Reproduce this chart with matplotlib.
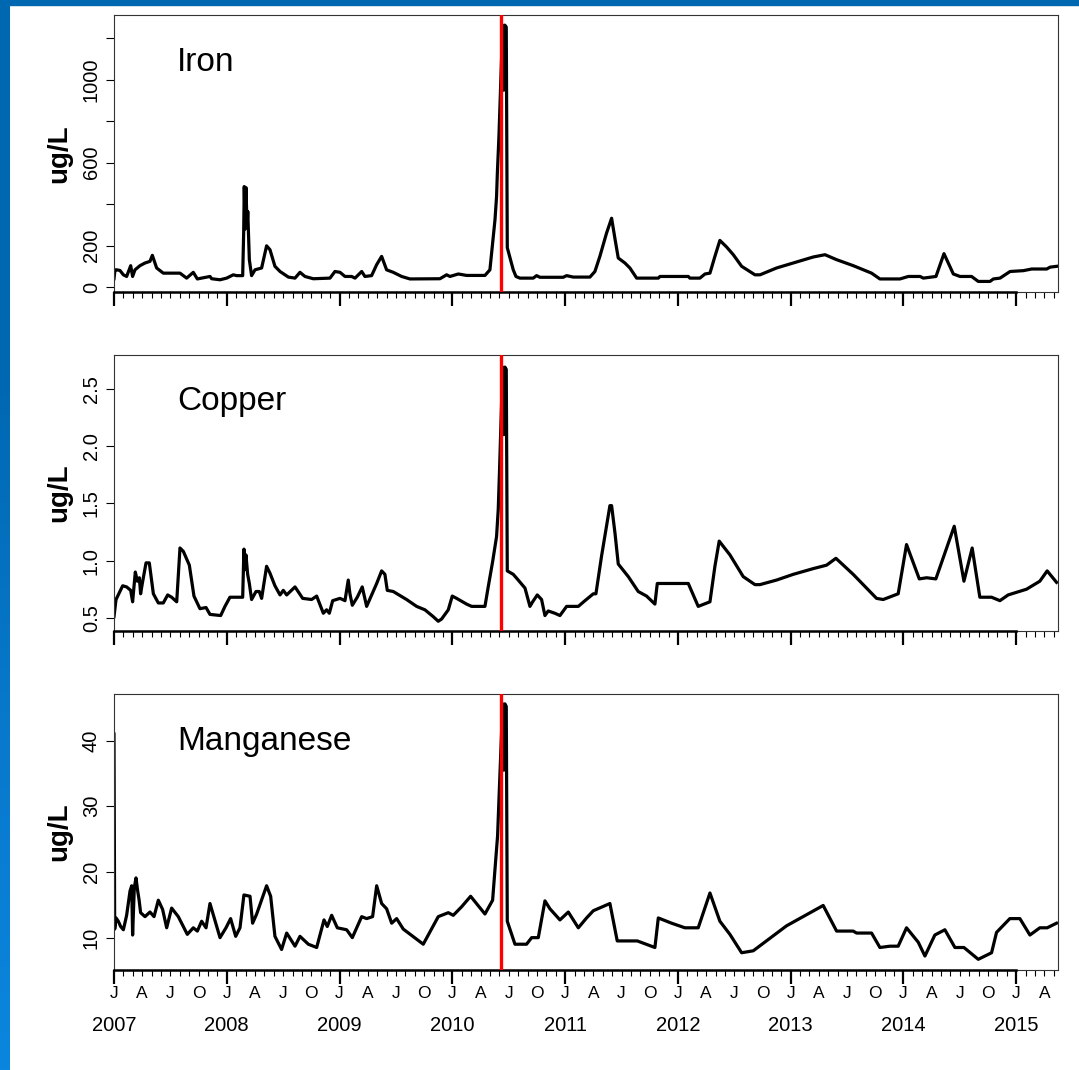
import matplotlib
matplotlib.use("Agg")
import matplotlib.pyplot as plt
import numpy as np
from matplotlib.colors import LinearSegmentedColormap
from matplotlib.patches import Rectangle

plt.rcParams['font.family'] = ['Liberation Sans', 'DejaVu Sans']

# sample dates as decimal years, values in ug/L
iron_t = [2007.000, 2007.009, 2007.024, 2007.053, 2007.083, 2007.112, 2007.148, 2007.165, 2007.186, 2007.230,
          2007.275, 2007.319, 2007.340, 2007.358, 2007.378, 2007.437, 2007.585, 2007.644, 2007.703, 2007.739,
          2007.851, 2007.866, 2007.940, 2007.999, 2008.058, 2008.087, 2008.141, 2008.150, 2008.155, 2008.163,
          2008.170, 2008.180, 2008.186, 2008.200, 2008.220, 2008.250, 2008.309, 2008.353, 2008.383, 2008.427,
          2008.472, 2008.546, 2008.605, 2008.649, 2008.693, 2008.767, 2008.915, 2008.959, 2009.004, 2009.048,
          2009.107, 2009.137, 2009.196, 2009.225, 2009.284, 2009.329, 2009.373, 2009.417, 2009.476, 2009.550,
          2009.624, 2009.890, 2009.949, 2009.979, 2010.053, 2010.126, 2010.289, 2010.333, 2010.357, 2010.378,
          2010.392, 2010.399, 2010.413, 2010.446, 2010.455, 2010.465, 2010.478, 2010.487, 2010.540, 2010.564,
          2010.599, 2010.717, 2010.747, 2010.777, 2010.983, 2011.013, 2011.072, 2011.220, 2011.264, 2011.308,
          2011.367, 2011.412, 2011.441, 2011.471, 2011.530, 2011.574, 2011.634, 2011.826, 2011.841, 2012.092,
          2012.106, 2012.195, 2012.240, 2012.284, 2012.328, 2012.372, 2012.432, 2012.491, 2012.565, 2012.683,
          2012.728, 2012.875, 2013.023, 2013.200, 2013.304, 2013.407, 2013.555, 2013.717, 2013.791, 2013.969,
          2014.043, 2014.147, 2014.176, 2014.288, 2014.359, 2014.442, 2014.501, 2014.604, 2014.663, 2014.767,
          2014.797, 2014.856, 2014.945, 2015.063, 2015.137, 2015.270, 2015.300, 2015.359]
iron_v = [40, 83, 83, 80, 59, 51, 103, 51, 83, 103,
          116, 124, 153, 124, 92, 67, 67, 43, 71, 39,
          51, 40, 35, 43, 59, 55, 55, 270, 485, 280,
          480, 290, 365, 132, 55, 83, 92, 199, 180, 100,
          75, 48, 43, 71, 51, 40, 43, 75, 71, 51,
          51, 43, 75, 51, 55, 108, 148, 83, 71, 51,
          39, 40, 59, 51, 63, 56, 56, 83, 212, 324,
          437, 550, 726, 1264, 950, 1264, 1255, 190, 83, 51,
          43, 43, 55, 47, 47, 55, 48, 48, 75, 148,
          260, 332, 236, 140, 116, 92, 43, 43, 51, 51,
          43, 43, 63, 67, 148, 225, 193, 156, 100, 59,
          59, 92, 116, 145, 156, 132, 103, 67, 39, 39,
          51, 51, 43, 51, 161, 63, 51, 51, 27, 27,
          39, 43, 75, 79, 87, 87, 96, 100]

copper_t = [2007.000, 2007.018, 2007.038, 2007.077, 2007.112, 2007.148, 2007.165, 2007.189, 2007.207, 2007.225,
            2007.236, 2007.251, 2007.284, 2007.313, 2007.349, 2007.393, 2007.437, 2007.476, 2007.511, 2007.556,
            2007.585, 2007.615, 2007.668, 2007.709, 2007.762, 2007.816, 2007.851, 2007.946, 2007.984, 2008.028,
            2008.141, 2008.152, 2008.160, 2008.170, 2008.185, 2008.200, 2008.220, 2008.259, 2008.288, 2008.309,
            2008.353, 2008.383, 2008.427, 2008.472, 2008.501, 2008.531, 2008.605, 2008.673, 2008.752, 2008.797,
            2008.856, 2008.885, 2008.909, 2008.939, 2009.004, 2009.048, 2009.077, 2009.092, 2009.113, 2009.157,
            2009.201, 2009.240, 2009.284, 2009.329, 2009.373, 2009.402, 2009.423, 2009.476, 2009.594, 2009.683,
            2009.757, 2009.831, 2009.875, 2009.905, 2009.964, 2009.999, 2010.038, 2010.126, 2010.171, 2010.289,
            2010.318, 2010.357, 2010.392, 2010.407, 2010.418, 2010.446, 2010.456, 2010.466, 2010.478, 2010.487,
            2010.540, 2010.584, 2010.644, 2010.688, 2010.712, 2010.753, 2010.791, 2010.821, 2010.850, 2010.909,
            2010.954, 2011.013, 2011.117, 2011.176, 2011.250, 2011.273, 2011.323, 2011.397, 2011.412, 2011.442,
            2011.471, 2011.560, 2011.648, 2011.722, 2011.796, 2011.817, 2012.092, 2012.180, 2012.284, 2012.328,
            2012.366, 2012.461, 2012.579, 2012.683, 2012.727, 2012.875, 2013.023, 2013.200, 2013.318, 2013.401,
            2013.554, 2013.761, 2013.820, 2013.953, 2014.027, 2014.140, 2014.205, 2014.287, 2014.450, 2014.536,
            2014.609, 2014.677, 2014.781, 2014.855, 2014.928, 2015.091, 2015.209, 2015.274, 2015.357]
copper_v = [0.51, 0.66, 0.70, 0.78, 0.77, 0.74, 0.64, 0.90, 0.82, 0.85,
            0.71, 0.80, 0.98, 0.98, 0.71, 0.63, 0.63, 0.70, 0.68, 0.64,
            1.11, 1.08, 0.96, 0.69, 0.58, 0.59, 0.53, 0.52, 0.60, 0.68,
            0.68, 1.10, 0.92, 1.05, 0.88, 0.80, 0.66, 0.73, 0.73, 0.67,
            0.95, 0.89, 0.78, 0.70, 0.74, 0.70, 0.77, 0.67, 0.66, 0.69,
            0.54, 0.57, 0.54, 0.65, 0.67, 0.65, 0.83, 0.71, 0.61, 0.68,
            0.77, 0.60, 0.70, 0.80, 0.91, 0.88, 0.74, 0.73, 0.66, 0.60,
            0.57, 0.51, 0.47, 0.49, 0.57, 0.69, 0.67, 0.62, 0.60, 0.60,
            0.77, 0.99, 1.21, 1.45, 1.78, 2.69, 2.10, 2.69, 2.67, 0.91,
            0.88, 0.83, 0.76, 0.60, 0.64, 0.70, 0.66, 0.52, 0.56, 0.54,
            0.52, 0.60, 0.60, 0.65, 0.71, 0.71, 1.04, 1.48, 1.48, 1.24,
            0.97, 0.86, 0.73, 0.69, 0.62, 0.80, 0.80, 0.60, 0.64, 0.95,
            1.17, 1.05, 0.86, 0.79, 0.79, 0.83, 0.88, 0.93, 0.96, 1.02,
            0.88, 0.67, 0.66, 0.71, 1.14, 0.84, 0.85, 0.84, 1.30, 0.82,
            1.11, 0.68, 0.68, 0.65, 0.70, 0.75, 0.82, 0.91, 0.81]

mang_t = [2007.000, 2007.006, 2007.018, 2007.038, 2007.059, 2007.083, 2007.112, 2007.142, 2007.157, 2007.165,
          2007.180, 2007.195, 2007.210, 2007.222, 2007.236, 2007.275, 2007.319, 2007.355, 2007.393, 2007.431,
          2007.467, 2007.511, 2007.570, 2007.650, 2007.703, 2007.739, 2007.777, 2007.816, 2007.851, 2007.940,
          2007.993, 2008.034, 2008.079, 2008.117, 2008.152, 2008.206, 2008.229, 2008.265, 2008.353, 2008.389,
          2008.427, 2008.486, 2008.531, 2008.605, 2008.649, 2008.723, 2008.797, 2008.862, 2008.891, 2008.930,
          2008.980, 2009.063, 2009.113, 2009.196, 2009.240, 2009.293, 2009.329, 2009.373, 2009.417, 2009.462,
          2009.506, 2009.565, 2009.742, 2009.875, 2009.964, 2010.008, 2010.082, 2010.162, 2010.289, 2010.357,
          2010.378, 2010.401, 2010.413, 2010.446, 2010.456, 2010.466, 2010.478, 2010.487, 2010.555, 2010.658,
          2010.703, 2010.762, 2010.821, 2010.865, 2010.954, 2011.028, 2011.117, 2011.190, 2011.250, 2011.397,
          2011.462, 2011.640, 2011.796, 2011.826, 2011.944, 2012.062, 2012.180, 2012.284, 2012.372, 2012.461,
          2012.565, 2012.668, 2012.963, 2013.288, 2013.407, 2013.554, 2013.584, 2013.717, 2013.791, 2013.880,
          2013.953, 2014.027, 2014.131, 2014.190, 2014.278, 2014.367, 2014.456, 2014.536, 2014.663, 2014.781,
          2014.825, 2014.943, 2015.032, 2015.121, 2015.209, 2015.274, 2015.357]
mang_v = [41.0, 11.3, 13.0, 12.5, 11.7, 11.2, 13.4, 17.1, 17.9, 10.4,
          17.6, 19.1, 17.1, 15.8, 13.8, 13.2, 13.9, 13.2, 15.7, 14.3,
          11.5, 14.5, 13.2, 10.5, 11.5, 11.0, 12.5, 11.5, 15.2, 10.0,
          11.5, 12.9, 10.2, 11.5, 16.5, 16.3, 12.2, 13.6, 17.9, 16.3,
          10.2, 8.2, 10.7, 8.7, 10.2, 9.0, 8.5, 12.7, 11.7, 13.4,
          11.5, 11.2, 10.0, 13.2, 12.9, 13.2, 17.9, 15.2, 14.4, 12.2,
          12.9, 11.3, 9.0, 13.2, 13.8, 13.4, 14.7, 16.3, 13.6, 15.7,
          20.4, 25.5, 30.9, 45.6, 35.5, 45.6, 45.2, 12.5, 9.0, 9.0,
          10.0, 10.0, 15.6, 14.4, 12.7, 13.9, 11.5, 13.0, 14.1, 15.2,
          9.5, 9.5, 8.5, 13.0, 12.2, 11.5, 11.5, 16.8, 12.5, 10.5,
          7.7, 8.0, 11.8, 14.9, 11.0, 11.0, 10.7, 10.7, 8.5, 8.7,
          8.7, 11.5, 9.3, 7.2, 10.4, 11.2, 8.5, 8.5, 6.7, 7.7,
          10.8, 12.9, 12.9, 10.4, 11.5, 11.5, 12.2]

event_t = 2010.43

iron_ticks = [0, 200, 400, 600, 800, 1000, 1200]
iron_labels = ['0', '200', '', '600', '', '1000', '']
copper_ticks = [0.5, 1.0, 1.5, 2.0, 2.5]
copper_labels = ['0.5', '1.0', '1.5', '2.0', '2.5']
mang_ticks = [10, 20, 30, 40]
mang_labels = ['10', '20', '30', '40']

years = list(range(2007, 2016))
month_letters = ['J', 'A', 'J', 'O']

panels = [
    ('Iron', iron_t, iron_v, (-24, 1313), iron_ticks, iron_labels),
    ('Copper', copper_t, copper_v, (0.385, 2.80), copper_ticks, copper_labels),
    ('Manganese', mang_t, mang_v, (5.15, 47.1), mang_ticks, mang_labels),
]

W, H = 1079, 1070
fig = plt.figure(figsize=(W / 100, H / 100), dpi=100)
fig.patch.set_facecolor('white')

# blue frame strips (left gradient, top band)
bar = fig.add_axes([0, 0, 10 / W, 1])
cmap = LinearSegmentedColormap.from_list('frame', ['#0b86de', '#0878cb', '#0067b1', '#0067b1'])
bar.imshow(np.linspace(0, 1, 256).reshape(-1, 1), aspect='auto', cmap=cmap, origin='lower')
bar.axis('off')
fig.patches.append(Rectangle((0, 1 - 5 / H), 1, 5 / H, transform=fig.transFigure,
                             color='#0067b1', zorder=0))

x0, x1 = 2007.0, 2015.37
months = np.arange(2007.0, x1, 1 / 12)
quarters = np.arange(2007.0, x1, 0.25)

tops = [15, 354.5, 694]
bots = [292, 631, 969.5]

for i, (name, t, v, ylim, yt, yl) in enumerate(panels):
    ax = fig.add_axes([114 / W, 1 - bots[i] / H, 944 / W, (bots[i] - tops[i]) / H])
    ax.plot(t, v, color='black', lw=2.3, zorder=2)
    ax.axvline(event_t, color='#ff0000', lw=2.4, zorder=3)
    ax.set_xlim(x0, x1)
    ax.set_ylim(*ylim)

    ax.set_yticks(yt)
    ax.set_yticklabels(yl)
    ax.tick_params(axis='y', length=5.5, width=0.8, labelsize=14.5, pad=4)
    for lab in ax.get_yticklabels():
        lab.set_rotation(90)
        lab.set_va('center')

    ax.set_xticks(years)
    ax.set_xticks(months, minor=True)
    ax.tick_params(axis='x', which='major', length=10, width=1.6, labelbottom=False)
    ax.tick_params(axis='x', which='minor', length=4.2, width=0.8)

    for s in ['top', 'left', 'right']:
        ax.spines[s].set_color('#333333')
        ax.spines[s].set_linewidth(0.8)
    ax.spines['bottom'].set_bounds(2007, 2015)
    ax.spines['bottom'].set_linewidth(1.8)
    ax.spines['bottom'].set_color('black')
    ax.plot([0, 1], [0, 0], transform=ax.transAxes, color='#333333', lw=0.8, clip_on=False)

    ax.set_ylabel('ug/L', fontsize=20, fontweight='bold')
    ax.yaxis.set_label_coords(-0.0445, 0.5)
    ax.text(0.0667, 0.798, name, transform=ax.transAxes, fontsize=24, ha='left', va='baseline')

    if i == 2:
        tr = ax.get_xaxis_transform()
        for k, q in enumerate(quarters):
            ax.text(q, -0.0853, month_letters[k % 4], transform=tr, ha='center', va='center',
                    fontsize=12.5)
        for yr in years:
            ax.text(yr, -0.2015, str(yr), transform=tr, ha='center', va='center', fontsize=14.5)

fig.savefig('out.png', dpi=100)
